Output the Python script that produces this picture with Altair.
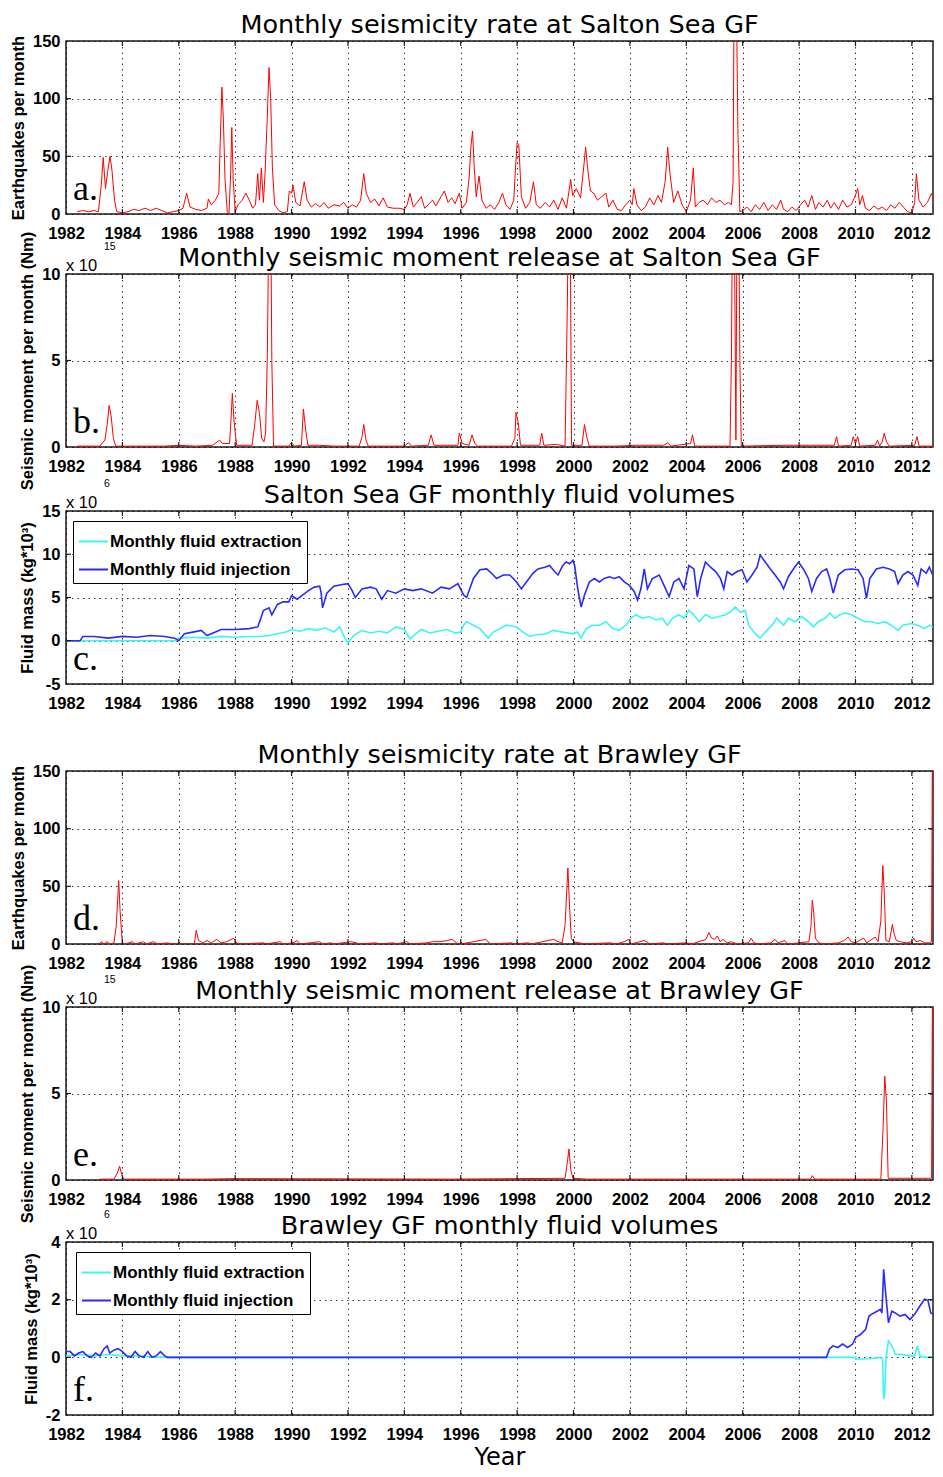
import altair as alt
import pandas as pd

# ---------------- data ----------------
# Panel a: Salton Sea GF monthly earthquake count
a_rate = [
    (1982.40, 2), (1982.60, 3), (1982.80, 2), (1983.00, 3), (1983.15, 2), (1983.25, 25), (1983.32, 49),
    (1983.40, 22), (1983.48, 37), (1983.56, 50), (1983.63, 38), (1983.72, 12), (1983.80, 2), (1984.00, 1),
    (1984.20, 2), (1984.40, 4), (1984.60, 3), (1984.80, 5), (1985.00, 3), (1985.20, 5), (1985.40, 3),
    (1985.60, 1), (1985.80, 2), (1986.00, 3), (1986.15, 5), (1986.28, 18), (1986.40, 6), (1986.60, 4),
    (1986.80, 3), (1987.00, 5), (1987.05, 13), (1987.15, 8), (1987.30, 12), (1987.42, 18), (1987.47, 62),
    (1987.53, 110), (1987.58, 83), (1987.64, 30), (1987.72, 2), (1987.78, 0), (1987.84, 35), (1987.88, 75),
    (1987.93, 30), (1988.00, 2), (1988.10, 8), (1988.25, 12), (1988.38, 18), (1988.50, 12), (1988.62, 5),
    (1988.72, 8), (1988.80, 35), (1988.86, 12), (1988.93, 40), (1989.00, 10), (1989.06, 35), (1989.14, 85),
    (1989.20, 127), (1989.26, 100), (1989.32, 40), (1989.40, 8), (1989.55, 3), (1989.70, 1), (1989.85, 2),
    (1989.92, 20), (1990.00, 18), (1990.05, 25), (1990.15, 10), (1990.30, 7), (1990.45, 28), (1990.55, 12),
    (1990.70, 6), (1990.85, 9), (1991.00, 6), (1991.15, 10), (1991.30, 5), (1991.50, 8), (1991.70, 7),
    (1991.85, 10), (1992.00, 5), (1992.15, 8), (1992.30, 6), (1992.45, 12), (1992.56, 35), (1992.65, 18),
    (1992.80, 10), (1992.95, 13), (1993.10, 7), (1993.25, 14), (1993.40, 6), (1993.60, 5), (1993.80, 5),
    (1994.00, 4), (1994.10, 8), (1994.20, 18), (1994.32, 6), (1994.45, 10), (1994.60, 15), (1994.72, 5),
    (1994.85, 8), (1995.00, 12), (1995.12, 7), (1995.30, 15), (1995.42, 20), (1995.55, 10), (1995.68, 14),
    (1995.80, 9), (1995.95, 18), (1996.05, 5), (1996.20, 10), (1996.30, 32), (1996.36, 58), (1996.42, 72),
    (1996.48, 40), (1996.55, 15), (1996.65, 33), (1996.75, 12), (1996.90, 5), (1997.05, 8), (1997.20, 4),
    (1997.35, 10), (1997.48, 18), (1997.60, 8), (1997.75, 4), (1997.88, 12), (1997.94, 38), (1998.00, 62),
    (1998.06, 60), (1998.15, 15), (1998.30, 5), (1998.45, 10), (1998.58, 28), (1998.68, 8), (1998.82, 5),
    (1999.00, 10), (1999.15, 6), (1999.30, 12), (1999.45, 4), (1999.60, 14), (1999.75, 5), (1999.90, 30),
    (1999.97, 16), (2000.10, 22), (2000.25, 14), (2000.38, 45), (2000.43, 58), (2000.50, 40), (2000.60, 20),
    (2000.72, 18), (2000.85, 12), (2001.00, 15), (2001.15, 18), (2001.25, 6), (2001.40, 12), (2001.55, 4),
    (2001.70, 3), (2001.85, 8), (2002.00, 12), (2002.08, 8), (2002.14, 22), (2002.25, 8), (2002.40, 3),
    (2002.55, 6), (2002.70, 14), (2002.85, 8), (2003.00, 16), (2003.12, 10), (2003.25, 28), (2003.34, 58),
    (2003.42, 35), (2003.55, 10), (2003.70, 20), (2003.85, 8), (2004.00, 2), (2004.15, 12), (2004.25, 40),
    (2004.32, 6), (2004.45, 10), (2004.60, 12), (2004.75, 8), (2004.90, 14), (2005.05, 10), (2005.20, 12),
    (2005.35, 8), (2005.50, 10), (2005.60, 8), (2005.66, 28), (2005.71, 260), (2005.77, 200), (2005.83, 74),
    (2005.90, 2), (2006.00, 3), (2006.15, 6), (2006.30, 2), (2006.45, 8), (2006.60, 4), (2006.75, 10),
    (2006.90, 3), (2007.05, 8), (2007.20, 4), (2007.35, 12), (2007.45, 4), (2007.60, 2), (2007.75, 6),
    (2007.90, 3), (2008.05, 8), (2008.20, 12), (2008.32, 6), (2008.45, 16), (2008.58, 4), (2008.70, 10),
    (2008.85, 6), (2009.00, 12), (2009.12, 5), (2009.25, 10), (2009.40, 4), (2009.55, 12), (2009.70, 6),
    (2009.85, 8), (2009.98, 15), (2010.08, 22), (2010.15, 8), (2010.25, 16), (2010.35, 5), (2010.50, 3),
    (2010.65, 7), (2010.80, 4), (2010.95, 6), (2011.10, 3), (2011.25, 8), (2011.40, 5), (2011.55, 10),
    (2011.70, 6), (2011.85, 2), (2012.00, 1), (2012.10, 10), (2012.16, 35), (2012.25, 12), (2012.40, 6),
    (2012.55, 10), (2012.70, 18), (2012.75, 14),
]

# Panel b: Salton Sea GF monthly seismic moment (x 1e15 Nm)
b_moment = [
    (1982.40, 0.05), (1983.20, 0.05), (1983.38, 0.4), (1983.46, 1.3), (1983.53, 2.4), (1983.60, 1.8),
    (1983.68, 0.5), (1983.76, 0.05), (1984.50, 0.05), (1985.50, 0.05), (1986.00, 0.1), (1986.60, 0.05),
    (1987.20, 0.1), (1987.45, 0.4), (1987.55, 0.2), (1987.80, 0.2), (1987.85, 1.5), (1987.90, 3.1),
    (1987.96, 1.5), (1988.05, 0.1), (1988.60, 0.1), (1988.70, 1.4), (1988.78, 2.7), (1988.86, 2.0),
    (1988.94, 0.5), (1989.02, 0.3), (1989.08, 0.8), (1989.14, 5.3), (1989.20, 14), (1989.26, 14),
    (1989.30, 5.0), (1989.36, 0.05), (1989.90, 0.05), (1990.00, 0.25), (1990.10, 0.05), (1990.35, 0.1),
    (1990.42, 2.2), (1990.50, 1.0), (1990.58, 0.1), (1991.00, 0.1), (1991.50, 0.05), (1992.40, 0.05),
    (1992.50, 0.6), (1992.56, 1.3), (1992.64, 0.4), (1992.72, 0.05), (1994.00, 0.05), (1994.15, 0.25),
    (1994.25, 0.05), (1994.85, 0.1), (1994.95, 0.7), (1995.05, 0.1), (1995.90, 0.1), (1995.95, 0.8),
    (1996.05, 0.2), (1996.30, 0.1), (1996.40, 0.7), (1996.50, 0.2), (1996.60, 0.05), (1997.80, 0.05),
    (1997.92, 0.5), (1997.96, 2.0), (1998.04, 1.4), (1998.12, 0.1), (1998.80, 0.1), (1998.87, 0.8),
    (1998.95, 0.1), (1999.40, 0.15), (1999.70, 0.05), (1999.78, 8), (1999.82, 14), (1999.88, 14),
    (1999.93, 0.1), (2000.30, 0.1), (2000.39, 1.3), (2000.48, 0.5), (2000.56, 0.05), (2001.50, 0.05),
    (2002.20, 0.1), (2003.20, 0.1), (2003.35, 0.25), (2003.45, 0.05), (2004.15, 0.2), (2004.22, 0.7),
    (2004.30, 0.05), (2005.55, 0.05), (2005.60, 5), (2005.64, 14), (2005.70, 14), (2005.76, 0.4),
    (2005.80, 14), (2005.86, 14), (2005.90, 5), (2005.95, 0.05), (2007.50, 0.1), (2008.40, 0.1),
    (2009.25, 0.1), (2009.33, 0.6), (2009.40, 0.05), (2009.85, 0.1), (2009.92, 0.6), (2010.00, 0.2),
    (2010.08, 0.6), (2010.15, 0.05), (2010.70, 0.1), (2010.78, 0.4), (2010.86, 0.05), (2010.95, 0.3),
    (2011.02, 0.8), (2011.10, 0.3), (2011.20, 0.05), (2012.10, 0.1), (2012.18, 0.6), (2012.26, 0.05),
    (2012.75, 0.05),
]

# Panel c: Salton Sea GF monthly fluid volumes (x 1e6 kg*10^3)
c_extraction = [
    (1982.00, 0.0), (1985.90, 0.0), (1986.00, 0.3), (1986.50, 0.4), (1987.00, 0.3), (1987.50, 0.5),
    (1988.00, 0.4), (1988.50, 0.5), (1988.90, 0.5), (1989.20, 0.6), (1989.50, 0.8), (1989.80, 1.0),
    (1990.00, 1.3), (1990.30, 1.1), (1990.60, 1.4), (1990.90, 1.2), (1991.20, 1.5), (1991.50, 1.0),
    (1991.70, 1.6), (1991.85, 0.6), (1992.00, -0.3), (1992.20, 0.6), (1992.50, 1.2), (1992.80, 0.9),
    (1993.10, 1.1), (1993.40, 0.9), (1993.70, 1.6), (1994.00, 1.3), (1994.20, 0.2), (1994.40, 0.8),
    (1994.60, 1.3), (1994.90, 0.9), (1995.20, 1.1), (1995.50, 1.3), (1995.80, 0.9), (1996.00, 1.0),
    (1996.10, 1.8), (1996.21, 2.2), (1996.45, 1.8), (1996.68, 1.4), (1996.98, 0.3), (1997.15, 1.0),
    (1997.39, 1.4), (1997.62, 1.8), (1997.98, 1.6), (1998.21, 1.0), (1998.45, 0.5), (1998.68, 0.7),
    (1999.04, 0.8), (1999.27, 1.2), (1999.62, 1.0), (1999.98, 0.8), (2000.15, 1.0), (2000.27, 0.3),
    (2000.45, 1.4), (2000.68, 1.8), (2000.92, 1.8), (2001.15, 2.2), (2001.39, 1.4), (2001.62, 1.2),
    (2001.86, 1.8), (2002.04, 2.6), (2002.21, 3.0), (2002.45, 2.6), (2002.68, 2.8), (2002.92, 2.4),
    (2003.15, 2.6), (2003.33, 1.8), (2003.51, 2.6), (2003.74, 3.0), (2003.92, 2.6), (2004.09, 3.5),
    (2004.27, 3.0), (2004.45, 2.2), (2004.68, 3.0), (2004.92, 2.6), (2005.15, 2.8), (2005.39, 3.0),
    (2005.56, 3.3), (2005.74, 3.9), (2005.92, 3.3), (2006.09, 3.5), (2006.21, 1.8), (2006.45, 0.8),
    (2006.62, 0.3), (2006.80, 1.0), (2007.04, 1.8), (2007.21, 2.6), (2007.45, 1.8), (2007.62, 2.6),
    (2007.86, 2.2), (2008.09, 2.8), (2008.33, 2.2), (2008.51, 1.6), (2008.68, 2.2), (2008.92, 2.6),
    (2009.09, 3.2), (2009.27, 2.6), (2009.45, 3.0), (2009.62, 3.2), (2009.86, 3.0), (2010.09, 2.6),
    (2010.33, 2.2), (2010.56, 2.2), (2010.80, 2.0), (2011.04, 2.2), (2011.27, 1.8), (2011.51, 1.2),
    (2011.68, 1.8), (2011.98, 2.0), (2012.21, 1.8), (2012.45, 1.4), (2012.62, 1.8), (2012.74, 1.6),
]
c_injection = [
    (1982.00, 0.0), (1982.50, 0.0), (1982.60, 0.5), (1983.00, 0.5), (1983.50, 0.3), (1984.00, 0.5),
    (1984.50, 0.4), (1985.00, 0.6), (1985.50, 0.5), (1985.85, 0.3), (1986.00, 0.0), (1986.20, 0.8),
    (1986.50, 1.0), (1986.80, 1.2), (1987.00, 0.6), (1987.30, 1.0), (1987.50, 1.3), (1988.00, 1.3),
    (1988.50, 1.4), (1988.80, 1.6), (1988.90, 2.5), (1989.00, 3.5), (1989.20, 3.8), (1989.30, 3.0),
    (1989.50, 4.2), (1989.70, 4.5), (1989.90, 4.5), (1990.00, 5.2), (1990.20, 4.8), (1990.40, 5.3),
    (1990.60, 5.8), (1990.80, 6.2), (1991.00, 6.3), (1991.05, 5.5), (1991.10, 3.8), (1991.25, 5.5),
    (1991.50, 6.3), (1991.80, 6.5), (1992.00, 6.6), (1992.15, 5.8), (1992.26, 5.0), (1992.50, 6.0),
    (1992.80, 6.2), (1993.00, 6.0), (1993.20, 4.8), (1993.40, 5.8), (1993.70, 5.5), (1994.00, 6.0),
    (1994.30, 5.8), (1994.60, 6.0), (1995.00, 5.5), (1995.30, 6.2), (1995.60, 6.0), (1995.90, 6.6),
    (1996.10, 5.3), (1996.21, 5.0), (1996.45, 7.2), (1996.68, 8.2), (1996.92, 8.3), (1997.09, 7.8),
    (1997.27, 7.2), (1997.51, 7.6), (1997.74, 7.6), (1997.98, 6.8), (1998.15, 6.0), (1998.33, 6.8),
    (1998.56, 7.8), (1998.74, 8.3), (1998.98, 8.5), (1999.15, 8.7), (1999.33, 8.0), (1999.45, 7.6),
    (1999.62, 8.7), (1999.74, 9.1), (1999.86, 8.9), (1999.98, 9.3), (2000.04, 8.7), (2000.15, 6.0),
    (2000.27, 3.9), (2000.39, 5.3), (2000.56, 6.8), (2000.74, 7.2), (2000.92, 6.8), (2001.09, 7.2),
    (2001.27, 7.4), (2001.45, 7.2), (2001.62, 7.4), (2001.80, 6.8), (2001.98, 6.4), (2002.15, 5.7),
    (2002.27, 4.7), (2002.39, 6.0), (2002.51, 8.3), (2002.62, 6.0), (2002.80, 7.2), (2003.04, 7.6),
    (2003.21, 6.4), (2003.39, 5.1), (2003.56, 6.8), (2003.74, 7.2), (2003.92, 6.0), (2004.09, 8.7),
    (2004.27, 8.3), (2004.39, 5.1), (2004.51, 7.2), (2004.68, 9.1), (2004.86, 8.5), (2005.04, 8.0),
    (2005.21, 7.2), (2005.33, 6.0), (2005.45, 8.0), (2005.62, 7.6), (2005.80, 8.0), (2005.98, 8.2),
    (2006.15, 6.8), (2006.33, 7.6), (2006.51, 8.5), (2006.62, 9.9), (2006.80, 9.1), (2006.98, 8.3),
    (2007.15, 7.6), (2007.33, 6.8), (2007.45, 6.0), (2007.62, 7.4), (2007.80, 8.3), (2007.98, 9.1),
    (2008.15, 8.3), (2008.33, 7.2), (2008.45, 5.7), (2008.62, 7.2), (2008.80, 8.0), (2008.98, 8.3),
    (2009.09, 7.2), (2009.21, 5.5), (2009.39, 7.6), (2009.62, 8.2), (2009.86, 8.3), (2010.09, 8.2),
    (2010.27, 7.2), (2010.39, 4.9), (2010.51, 7.2), (2010.74, 8.3), (2010.98, 8.5), (2011.21, 8.3),
    (2011.39, 8.0), (2011.51, 6.6), (2011.68, 7.6), (2011.86, 8.0), (2012.04, 7.6), (2012.21, 6.4),
    (2012.33, 8.3), (2012.51, 7.8), (2012.62, 8.5), (2012.74, 7.6),
]

# Panel d: Brawley GF monthly earthquake count
d_rate = [
    (1983.20, 0), (1983.25, 2), (1983.35, 0), (1983.45, 2), (1983.55, 0), (1983.70, 1), (1983.78, 15),
    (1983.87, 55), (1983.92, 28), (1984.00, 1), (1984.10, 0), (1984.35, 2), (1984.45, 0), (1984.75, 2),
    (1984.85, 0), (1985.10, 2), (1985.25, 0), (1985.60, 1), (1985.75, 0), (1986.55, 0), (1986.62, 12),
    (1986.70, 3), (1986.85, 1), (1987.00, 3), (1987.15, 1), (1987.35, 4), (1987.50, 1), (1987.70, 2),
    (1987.95, 5), (1988.05, 1), (1988.20, 0), (1989.00, 1), (1989.10, 0), (1989.60, 2), (1989.70, 0),
    (1990.05, 1), (1990.20, 3), (1990.30, 0), (1991.00, 2), (1991.10, 0), (1991.40, 1), (1991.50, 0),
    (1992.10, 2), (1992.30, 1), (1992.40, 0), (1993.00, 1), (1993.10, 0), (1993.60, 1), (1993.70, 0),
    (1994.10, 2), (1994.20, 0), (1994.80, 1), (1995.00, 2), (1995.30, 2), (1995.50, 3), (1995.70, 4),
    (1995.85, 1), (1996.00, 0), (1996.90, 4), (1997.00, 1), (1997.10, 0), (1997.80, 1), (1997.90, 0),
    (1998.40, 1), (1998.50, 0), (1999.30, 4), (1999.45, 2), (1999.60, 1), (1999.70, 16), (1999.80, 66),
    (1999.86, 32), (1999.92, 5), (2000.00, 2), (2000.20, 1), (2000.40, 0), (2001.30, 1), (2001.50, 0),
    (2001.80, 2), (2001.95, 4), (2002.05, 0), (2002.50, 3), (2002.60, 2), (2002.70, 0), (2003.20, 1),
    (2003.30, 0), (2004.00, 1), (2004.20, 0), (2004.70, 4), (2004.80, 10), (2004.90, 5), (2005.00, 4),
    (2005.10, 7), (2005.20, 2), (2005.30, 4), (2005.45, 1), (2005.60, 2), (2005.80, 0), (2006.20, 1),
    (2006.30, 5), (2006.40, 1), (2006.60, 0), (2007.00, 1), (2007.15, 4), (2007.25, 1), (2007.50, 3),
    (2007.60, 0), (2008.00, 1), (2008.35, 2), (2008.42, 15), (2008.47, 38), (2008.52, 27), (2008.58, 5),
    (2008.70, 1), (2008.90, 0), (2009.40, 1), (2009.60, 3), (2009.74, 6), (2009.85, 2), (2010.00, 1),
    (2010.20, 4), (2010.30, 5), (2010.40, 1), (2010.70, 6), (2010.80, 2), (2010.90, 20), (2010.97, 68),
    (2011.02, 45), (2011.08, 3), (2011.20, 2), (2011.31, 17), (2011.38, 8), (2011.45, 3), (2011.60, 2),
    (2011.80, 1), (2012.00, 2), (2012.07, 5), (2012.15, 2), (2012.30, 3), (2012.45, 1), (2012.62, 1),
    (2012.70, 2), (2012.74, 250),
]

# Panel e: Brawley GF monthly seismic moment (x 1e15 Nm)
e_moment = [
    (1983.20, 0.05), (1983.70, 0.05), (1983.82, 0.4), (1983.90, 0.8), (1983.98, 0.3), (1984.05, 0.05),
    (1987.00, 0.05), (1988.00, 0.08), (1995.60, 0.05), (1999.70, 0.1), (1999.78, 1.0), (1999.84, 1.8),
    (1999.90, 0.6), (1999.98, 0.1), (2000.50, 0.05), (2008.40, 0.05), (2008.47, 0.25), (2008.55, 0.05),
    (2010.90, 0.05), (2010.98, 3.0), (2011.04, 6.0), (2011.10, 4.5), (2011.16, 0.1), (2012.60, 0.1),
    (2012.70, 0.1), (2012.74, 15),
]

# Panel f: Brawley GF monthly fluid volumes (x 1e6 kg*10^3)
f_extraction = [
    (1982.00, 0.05), (1982.50, 0.1), (1983.00, 0.05), (1983.50, 0.1), (1984.00, 0.05), (1984.50, 0.05),
    (1985.00, 0.02), (1985.60, 0.0), (2010.00, 0.0), (2010.01, -0.06), (2010.50, -0.05), (2010.88, 0.0),
    (2010.96, -0.06), (2011.00, -1.45), (2011.04, -1.2), (2011.08, -0.05), (2011.17, 0.57), (2011.29, 0.4),
    (2011.41, 0.11), (2011.65, 0.1), (2011.90, 0.05), (2012.10, 0.05), (2012.20, 0.4), (2012.28, 0.05),
    (2012.50, 0.0), (2012.75, 0.0),
]
f_injection = [
    (1982.00, 0.2), (1982.15, 0.2), (1982.30, 0.05), (1982.45, 0.15), (1982.60, 0.2), (1982.75, 0.05),
    (1982.90, 0.0), (1983.05, 0.15), (1983.20, 0.05), (1983.35, 0.3), (1983.46, 0.4), (1983.55, 0.15),
    (1983.70, 0.25), (1983.85, 0.3), (1984.00, 0.2), (1984.15, 0.05), (1984.30, 0.0), (1984.45, 0.2),
    (1984.60, 0.05), (1984.75, 0.0), (1984.90, 0.2), (1985.05, 0.0), (1985.20, 0.05), (1985.35, 0.2),
    (1985.50, 0.05), (1985.60, 0.0), (2008.97, 0.0), (2009.08, 0.29), (2009.20, 0.4), (2009.37, 0.34),
    (2009.55, 0.46), (2009.72, 0.34), (2009.90, 0.46), (2010.01, 0.69), (2010.19, 0.8), (2010.36, 0.97),
    (2010.48, 1.43), (2010.65, 1.54), (2010.77, 1.6), (2010.88, 1.66), (2010.94, 1.54), (2011.00, 3.05),
    (2011.06, 2.34), (2011.17, 1.2), (2011.29, 1.6), (2011.41, 1.54), (2011.58, 1.43), (2011.76, 1.49),
    (2011.93, 1.31), (2012.10, 1.49), (2012.28, 1.77), (2012.45, 2.02), (2012.57, 1.98), (2012.67, 1.54),
    (2012.75, 1.5),
]

YEAR_TICKS = list(range(1982, 2013, 2))
EXT = "Monthly fluid extraction"
INJ = "Monthly fluid injection"

# ---------------- styling ----------------
W = 867
H = 173
X_MAX = 2012.75
TITLE_FONT = "DejaVu Sans"
LAB_FONT = "Liberation Sans"
SERIF = "Liberation Serif"
FRAME = "#1a1a1a"
RED = "#ff0000"
CYAN = "#3af7f7"
BLUE = "#2a2aff"
GRID_DASH = [1.5, 4]
TICK_FS = 16.5


def to_df(points, series=None):
    df = pd.DataFrame(points, columns=["year", "value"])
    if series is not None:
        df["series"] = series
    return df


def x_axis(last):
    kw = dict(values=YEAR_TICKS, format="d", grid=True, gridDash=GRID_DASH, gridColor="black",
              gridOpacity=0.8, gridWidth=1, ticks=False, domain=False, labelFont=LAB_FONT,
              labelFontWeight="bold", labelFontSize=TICK_FS, labelColor="black", labelPadding=11,
              labelFlush=False, labelOverlap=False)
    if last:
        kw.update(titleFont=TITLE_FONT, titleFontSize=24, titleFontWeight="normal",
                  titleColor="black", titlePadding=3)
    return alt.Axis(**kw)


def text_layer(text, x, y, **style):
    return alt.Chart(pd.DataFrame({"t": [text]})).mark_text(color="black", **style).encode(
        text="t:N", x=alt.value(x), y=alt.value(y))


def panel(df, ydom, yticks, ytitle, title, letter, sup=None, colored=False, legend_xy=None, last=False):
    xs = alt.Scale(domain=[1982, X_MAX], nice=False, zero=False)
    ys = alt.Scale(domain=ydom, nice=False, zero=False)
    yaxis = alt.Axis(values=yticks, grid=True, gridDash=GRID_DASH, gridColor="black", gridOpacity=0.8,
                     gridWidth=1, ticks=False, domain=False, labelFont=LAB_FONT, labelFontWeight="bold",
                     labelFontSize=TICK_FS, labelColor="black", labelPadding=6, labelExpr="'' + datum.value",
                     titleFont=LAB_FONT, titleFontWeight="bold", titleFontSize=16.5,
                     titleColor="black", titlePadding=6)
    # the same x / y encodings are used in every layer so that the merged axes stay intact
    X = alt.X("year:Q", scale=xs, axis=x_axis(last), title="Year" if last else None)
    Y = alt.Y("value:Q", scale=ys, axis=yaxis, title=ytitle)

    if colored:
        lx, ly = legend_xy
        color = alt.Color(
            "series:N", title=None,
            scale=alt.Scale(domain=[EXT, INJ], range=[CYAN, BLUE]),
            legend=alt.Legend(orient="none", legendX=lx, legendY=ly, direction="vertical",
                              fillColor="white", strokeColor="black", padding=5,
                              symbolType="stroke", symbolSize=841, symbolStrokeWidth=2,
                              labelFont=LAB_FONT, labelFontWeight="bold", labelFontSize=17,
                              labelColor="black", labelOffset=1, labelLimit=400, rowPadding=4),
        )
        lines = alt.Chart(df).mark_line(clip=True, strokeWidth=1.6).encode(x=X, y=Y, color=color)
    else:
        lines = alt.Chart(df).mark_line(clip=True, color=RED, strokeWidth=1).encode(x=X, y=Y)

    xt = pd.DataFrame({"year": YEAR_TICKS[1:]})
    yt = pd.DataFrame({"value": yticks[1:-1]})
    tick_style = dict(color=FRAME, strokeWidth=1.2)
    ticks_top = alt.Chart(xt).mark_rule(**tick_style).encode(x=X, y=alt.value(0), y2=alt.value(5))
    ticks_bot = alt.Chart(xt).mark_rule(**tick_style).encode(x=X, y=alt.value(H - 5), y2=alt.value(H))
    ticks_left = alt.Chart(yt).mark_rule(**tick_style).encode(y=Y, x=alt.value(0), x2=alt.value(5))
    ticks_right = alt.Chart(yt).mark_rule(**tick_style).encode(y=Y, x=alt.value(W - 5), x2=alt.value(W))

    layers = [
        lines, ticks_top, ticks_bot, ticks_left, ticks_right,
        text_layer(letter, 7, H - 14, font=SERIF, fontSize=36, align="left", baseline="alphabetic"),
        text_layer(title, W / 2, -16, font=TITLE_FONT, fontSize=25.5, align="center", baseline="middle"),
    ]
    if sup is not None:
        layers.append(text_layer("x 10", 0, -8, font=LAB_FONT, fontSize=16.5, align="left", baseline="middle"))
        layers.append(text_layer(sup, 38, -27, font=LAB_FONT, fontSize=10.5, align="left", baseline="middle"))

    return alt.layer(*layers).properties(width=W, height=H)


def spacer(h):
    return alt.Chart(pd.DataFrame({"v": [0]})).mark_point(opacity=0).encode(
        x=alt.X("v:Q", axis=None), y=alt.Y("v:Q", axis=None)
    ).properties(width=W, height=h, view=alt.ViewBackground(stroke="transparent"))


pa = panel(to_df(a_rate), [0, 150], [0, 50, 100, 150], "Earthquakes per month",
           "Monthly seismicity rate at Salton Sea GF", "a.")
pb = panel(to_df(b_moment), [0, 10], [0, 5, 10], "Seismic moment per month (Nm)",
           "Monthly seismic moment release at Salton Sea GF", "b.", sup="15")
pc = panel(pd.concat([to_df(c_extraction, EXT), to_df(c_injection, INJ)], ignore_index=True),
           [-5, 15], [-5, 0, 5, 10, 15], "Fluid mass (kg*10³)",
           "Salton Sea GF monthly fluid volumes", "c.", sup="6", colored=True, legend_xy=(7, 10))
pd_ = panel(to_df(d_rate), [0, 150], [0, 50, 100, 150], "Earthquakes per month",
            "Monthly seismicity rate at Brawley GF", "d.")
pe = panel(to_df(e_moment), [0, 10], [0, 5, 10], "Seismic moment per month (Nm)",
           "Monthly seismic moment release at Brawley GF", "e.", sup="15")
pf = panel(pd.concat([to_df(f_extraction, EXT), to_df(f_injection, INJ)], ignore_index=True),
           [-2, 4], [-2, 0, 2, 4], "Fluid mass (kg*10³)",
           "Brawley GF monthly fluid volumes", "f.", sup="6", colored=True, legend_xy=(10, 10), last=True)

chart = alt.vconcat(
    pa, spacer(60), pb, spacer(64), pc, spacer(87), pd_, spacer(63), pe, spacer(62), pf,
    spacing=0, bounds="flush",
).resolve_scale(
    x="independent", y="independent", color="independent"
).resolve_axis(
    x="independent", y="independent"
).resolve_legend(
    color="independent"
).properties(
    padding={"left": 1, "top": 4, "right": 0, "bottom": 0},
    background="white",
).configure_view(
    stroke=FRAME, strokeWidth=1.5
)

chart.save("out.html", embed_options={"renderer": "svg", "actions": False})
